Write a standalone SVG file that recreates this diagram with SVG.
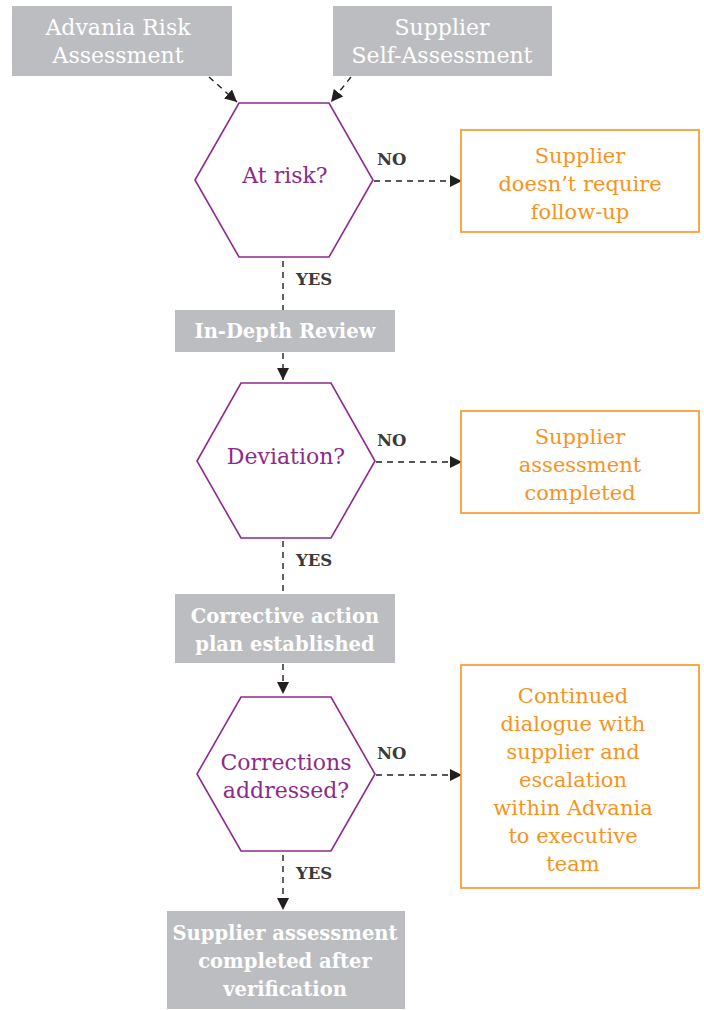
<svg xmlns="http://www.w3.org/2000/svg" width="704" height="1010" viewBox="0 0 704 1010">
<style>
.gbox{fill:#bcbdc0}
.hex{fill:#fff;stroke:#8e2a8c;stroke-width:1.6}
.obox{fill:#fff;stroke:#f7941d;stroke-width:1.6}
.conn{fill:none;stroke:#231f20;stroke-width:1.4;stroke-dasharray:6 5}
.t{font-family:"DejaVu Serif","Liberation Serif",serif;text-anchor:middle}
.lt{fill:#fff;font-size:22px;font-weight:300}
.bt{fill:#fff;font-size:19.5px;font-weight:bold}
.pt{fill:#8e2a8c;font-size:22px}
.ot{fill:#f7941d;font-size:21px}
.lab{fill:#3a3a3a;font-size:16.5px;font-weight:bold;text-anchor:start}
</style>
<defs>
<marker id="ah" viewBox="0 0 12 12" refX="12" refY="6" markerWidth="12" markerHeight="12" markerUnits="userSpaceOnUse" orient="auto">
<path d="M0,0 L12,6 L0,12 z" fill="#231f20"/>
</marker>
</defs>

<g id="connectors">
<line class="conn" x1="209" y1="77" x2="237" y2="102" marker-end="url(#ah)"/>
<line class="conn" x1="351" y1="77" x2="331" y2="102" marker-end="url(#ah)"/>
<line class="conn" x1="374" y1="181" x2="462" y2="181" marker-end="url(#ah)"/>
<line class="conn" x1="283" y1="261" x2="283" y2="310"/>
<line class="conn" x1="283" y1="353" x2="283" y2="380" marker-end="url(#ah)"/>
<line class="conn" x1="376" y1="462" x2="462" y2="462" marker-end="url(#ah)"/>
<line class="conn" x1="283" y1="541" x2="283" y2="594"/>
<line class="conn" x1="283" y1="664" x2="283" y2="694" marker-end="url(#ah)"/>
<line class="conn" x1="376" y1="775" x2="462" y2="775" marker-end="url(#ah)"/>
<line class="conn" x1="283" y1="855" x2="283" y2="910" marker-end="url(#ah)"/>
<text class="t lab" x="377" y="165">NO</text>
<text class="t lab" x="296" y="285">YES</text>
<text class="t lab" x="377" y="446">NO</text>
<text class="t lab" x="296" y="566">YES</text>
<text class="t lab" x="377" y="759">NO</text>
<text class="t lab" x="296" y="879">YES</text>
</g>

<g id="advania-risk">
<rect class="gbox" x="12" y="6" width="220" height="70"/>
<text class="t lt" x="118" y="35">Advania Risk</text>
<text class="t lt" x="118" y="63">Assessment</text>
</g>
<g id="supplier-self">
<rect class="gbox" x="333" y="6" width="219" height="70"/>
<text class="t lt" x="442" y="35">Supplier</text>
<text class="t lt" x="442" y="63">Self-Assessment</text>
</g>

<g id="at-risk">
<polygon class="hex" points="239,103 329,103 373,180 329,257 239,257 195,180"/>
<text class="t pt" x="285" y="183">At risk?</text>
</g>
<g id="no-followup">
<rect class="obox" x="461" y="130" width="238" height="102"/>
<text class="t ot" x="580" y="163">Supplier</text>
<text class="t ot" x="580" y="191">doesn’t require</text>
<text class="t ot" x="580" y="219">follow-up</text>
</g>

<g id="in-depth">
<rect class="gbox" x="175" y="310" width="220" height="42"/>
<text class="t bt" x="285" y="338">In-Depth Review</text>
</g>

<g id="deviation">
<polygon class="hex" points="241,383 331,383 375,461 331,538 241,538 197,461"/>
<text class="t pt" x="286" y="464">Deviation?</text>
</g>
<g id="assessment-completed">
<rect class="obox" x="461" y="411" width="238" height="102"/>
<text class="t ot" x="580" y="444">Supplier</text>
<text class="t ot" x="580" y="472">assessment</text>
<text class="t ot" x="580" y="500">completed</text>
</g>

<g id="corrective">
<rect class="gbox" x="175" y="594" width="220" height="69"/>
<text class="t bt" x="285" y="623">Corrective action</text>
<text class="t bt" x="285" y="651">plan established</text>
</g>

<g id="corrections">
<polygon class="hex" points="241,697 331,697 375,774 331,851 241,851 197,774"/>
<text class="t pt" x="286" y="770">Corrections</text>
<text class="t pt" x="286" y="798">addressed?</text>
</g>
<g id="escalation">
<rect class="obox" x="461" y="665" width="238" height="223"/>
<text class="t ot" x="573" y="703">Continued</text>
<text class="t ot" x="573" y="731">dialogue with</text>
<text class="t ot" x="573" y="759">supplier and</text>
<text class="t ot" x="573" y="787">escalation</text>
<text class="t ot" x="573" y="815">within Advania</text>
<text class="t ot" x="573" y="843">to executive</text>
<text class="t ot" x="573" y="871">team</text>
</g>

<g id="final">
<rect class="gbox" x="167" y="911" width="238" height="98"/>
<text class="t bt" x="285" y="940">Supplier assessment</text>
<text class="t bt" x="285" y="968">completed after</text>
<text class="t bt" x="285" y="996">verification</text>
</g>
</svg>
